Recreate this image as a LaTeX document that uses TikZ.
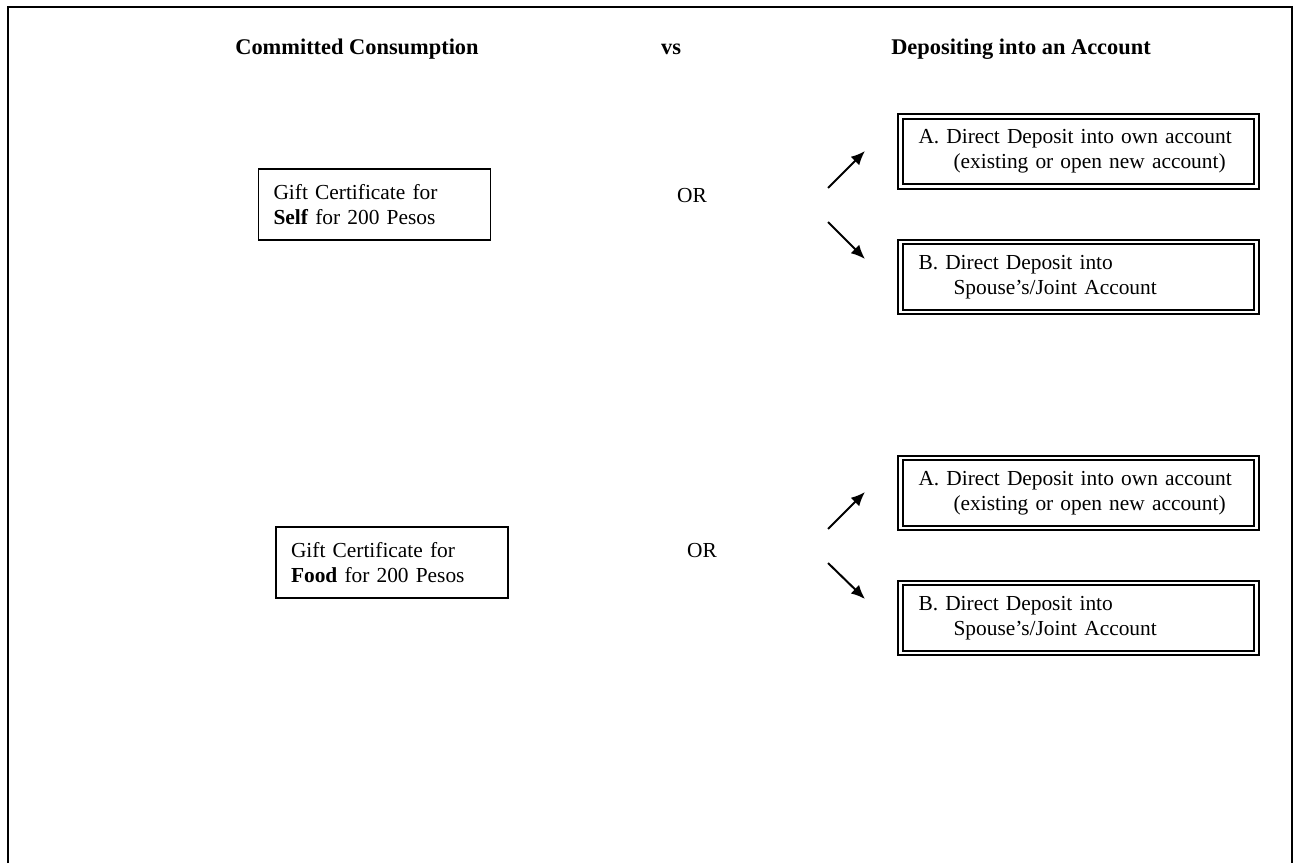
\documentclass[tikz,border=0pt]{standalone}
\usepackage{fontspec}
\setmainfont{Liberation Serif}
\usetikzlibrary{arrows.meta}

\begin{document}
\begin{tikzpicture}[x=0.5pt,y=-0.5pt,
    every node/.style={font=\fontsize{10.7}{12.5}\selectfont},
    heading/.style={anchor=base, font=\fontsize{11.2}{13}\selectfont\bfseries},
    giftbox/.style={draw, line width=0.7pt, align=left, text width=101pt, inner xsep=7.5pt, minimum height=35.5pt},
    depbox/.style={draw, double, line width=1pt, double distance=1.2pt, align=left, text width=160pt, inner xsep=9pt, minimum height=35pt},
    pick/.style={line width=1pt, -{Latex[length=7pt,width=6pt]}}]
        \useasboundingbox (0,0) rectangle (1294,863);

        % outer frame, open at the bottom
        \draw[line width=1pt] (8,863) -- (8,7) -- (1292,7) -- (1292,863);

        % headings
        \node[heading] (hcons) at (357,54) {Committed Consumption};
        \node[heading] (hvs) at (671,54) {vs};
        \node[heading] (hdep) at (1021,54) {Depositing into an Account};

        % first choice: self
        \node[giftbox] (self) at (374.5,204.5) {Gift Certificate for\\\textbf{Self} for 200 Pesos};
        \node[anchor=base] (or1) at (692,202) {OR};
        \node[depbox] (own1) at (1078.5,151.5) {\mbox{A. Direct Deposit into own account}\\\hspace*{17.5pt}(existing or open new account)};
        \node[depbox] (joint1) at (1078.5,277) {B. Direct Deposit into\\\hspace*{17.5pt}Spouse’s/Joint Account};
        \coordinate (up1s) at (828,188);
        \coordinate (up1e) at (865,151);
        \coordinate (dn1s) at (828,222);
        \coordinate (dn1e) at (865,259);
        \draw[pick] (up1s) -- (up1e);
        \draw[pick] (dn1s) -- (dn1e);

        % second choice: food
        \node[giftbox] (food) at (392,562.5) {Gift Certificate for\\\textbf{Food} for 200 Pesos};
        \node[anchor=base] (or2) at (702,557) {OR};
        \node[depbox] (own2) at (1078.5,493) {\mbox{A. Direct Deposit into own account}\\\hspace*{17.5pt}(existing or open new account)};
        \node[depbox] (joint2) at (1078.5,618) {B. Direct Deposit into\\\hspace*{17.5pt}Spouse’s/Joint Account};
        \coordinate (up2s) at (828,529);
        \coordinate (up2e) at (865,492);
        \coordinate (dn2s) at (828,563);
        \coordinate (dn2e) at (865,599);
        \draw[pick] (up2s) -- (up2e);
        \draw[pick] (dn2s) -- (dn2e);
    \end{tikzpicture}
\end{document}
